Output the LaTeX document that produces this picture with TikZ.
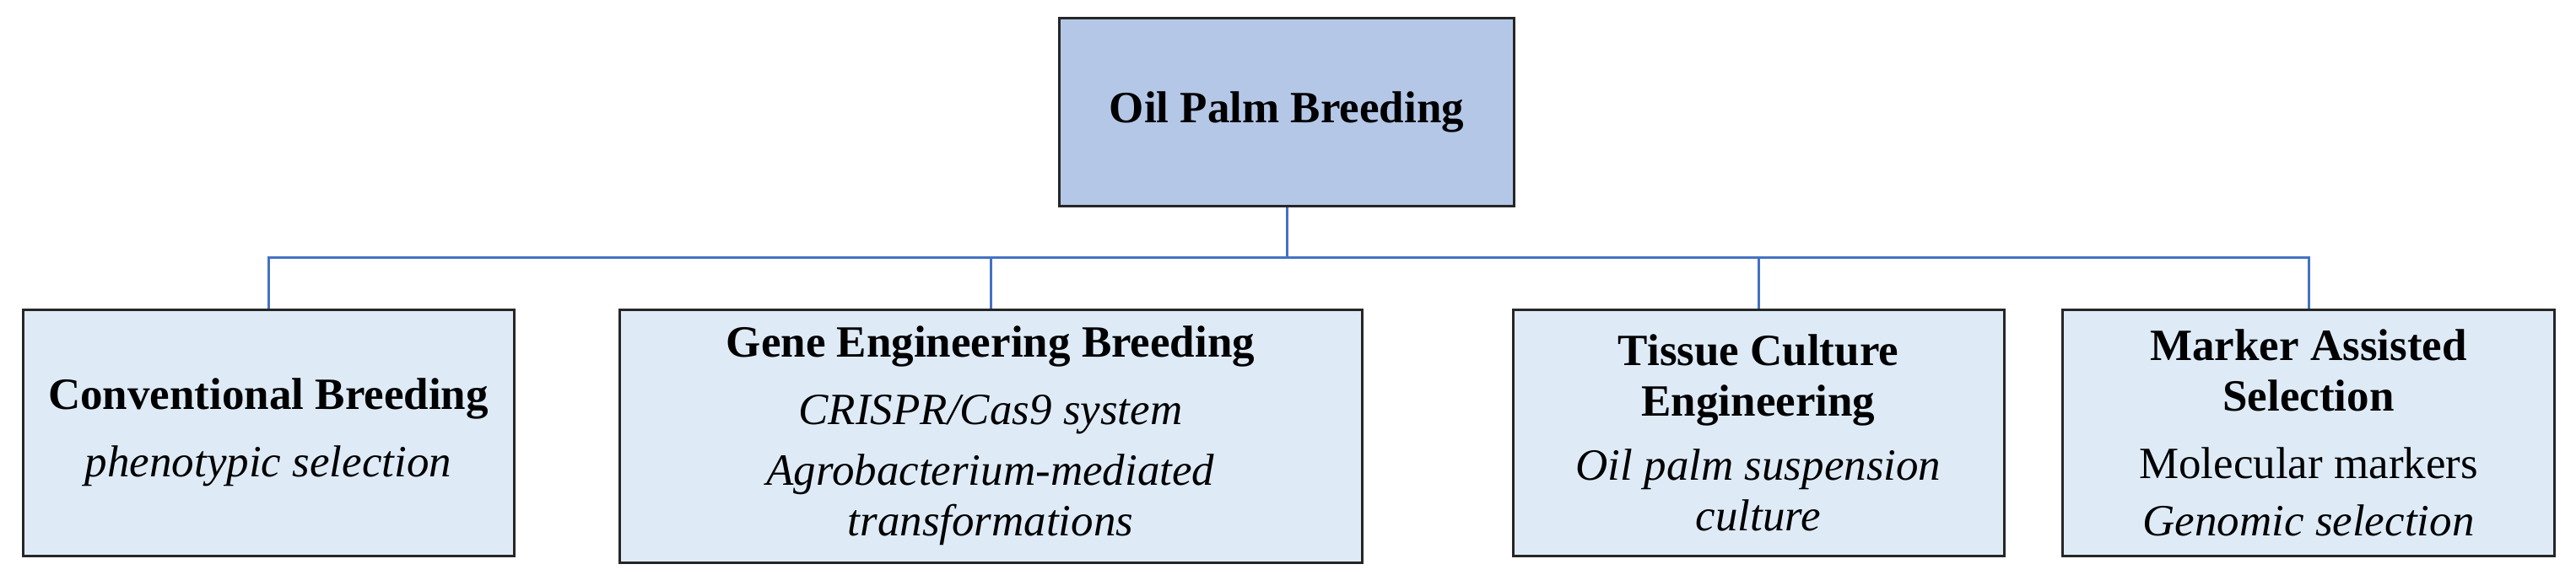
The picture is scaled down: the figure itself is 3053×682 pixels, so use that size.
\documentclass[tikz,border=0pt]{standalone}
\usepackage{fontspec}
\setmainfont{Liberation Serif}
\begin{document}
\begin{tikzpicture}[x=1pt,y=-1pt,
  box/.style={draw=black!85,line width=3pt,align=center,inner sep=0pt,
    font=\fontsize{53}{60}\selectfont},
  top/.style={box,fill=topc},
  sub/.style={box,fill=subc},
  link/.style={draw=linkc,line width=3pt}]
\definecolor{topc}{HTML}{B4C7E7}
\definecolor{subc}{HTML}{DEEBF7}
\definecolor{linkc}{HTML}{4472C4}
\useasboundingbox (0,0) rectangle (3053,682);
\node[top,minimum width=539,minimum height=223] (root) at (1525,133) {\textbf{Oil Palm Breeding}};
\node[sub,minimum width=582,minimum height=292] (a) at (318,513) {\textbf{Conventional Breeding}\\[20pt]\textit{phenotypic selection}};
\node[sub,minimum width=880,minimum height=300] (b) at (1174,517) {\textbf{Gene Engineering Breeding}\\[20pt]\textit{CRISPR/Cas9 system}\\[12pt]\textit{Agrobacterium-mediated}\\\textit{transformations}};
\node[sub,minimum width=582,minimum height=292] (c) at (2084,513) {\textbf{Tissue Culture}\\\textbf{Engineering}\\[16pt]\textit{Oil palm suspension}\\\textit{culture}};
\node[sub,minimum width=583,minimum height=292] (d) at (2736,513) {\textbf{Marker Assisted}\\\textbf{Selection}\\[20pt]Molecular markers\\[8pt]\textit{Genomic selection}};
\coordinate (bus) at (1525,305);
\draw[link] (root.south) -- (bus);
\draw[link] (a.north) |- (bus) -| (d.north);
\draw[link] (b.north) -- (b.north |- bus);
\draw[link] (c.north) -- (c.north |- bus);
\end{tikzpicture}
\end{document}
